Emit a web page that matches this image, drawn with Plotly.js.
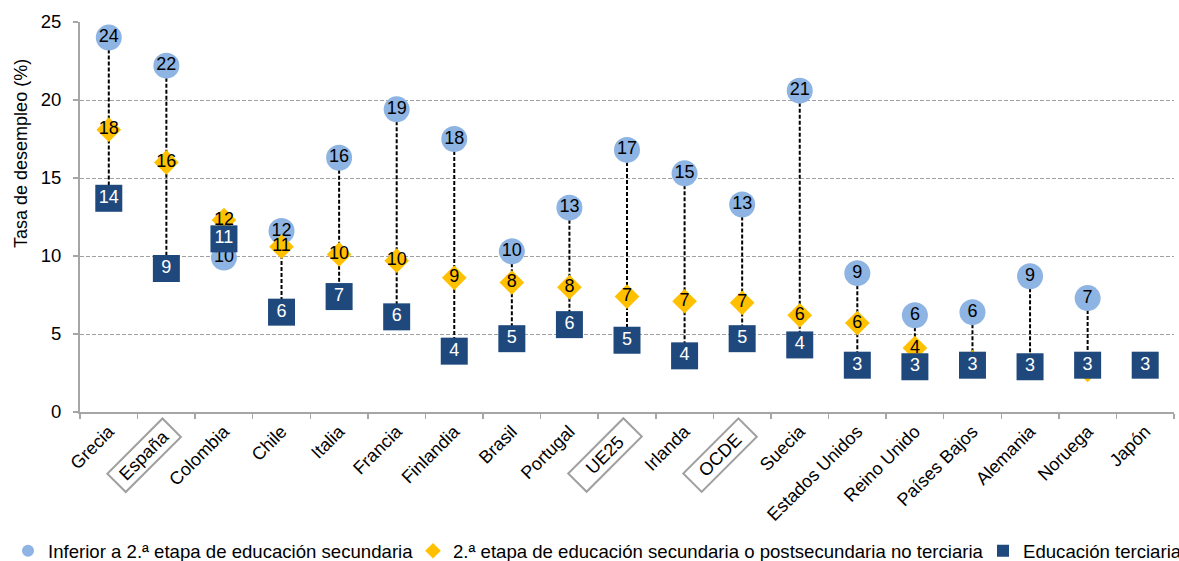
<!DOCTYPE html>
<html>
<head>
<meta charset="utf-8">
<script src="https://cdn.plot.ly/plotly-3.0.1.min.js"></script>
<style>html,body{margin:0;padding:0;background:#fff;}#chart{width:1179px;height:561px;}</style>
</head>
<body>
<div id="chart"></div>
<script>
// ---- Data ----
const categories = ["Grecia","España","Colombia","Chile","Italia","Francia","Finlandia","Brasil","Portugal","UE25","Irlanda","OCDE","Suecia","Estados Unidos","Reino Unido","Países Bajos","Alemania","Noruega","Japón"];
const inferiorSecundaria = [24.0, 22.2, 9.9, 11.6, 16.3, 19.4, 17.5, 10.3, 13.1, 16.8, 15.3, 13.3, 20.6, 8.9, 6.2, 6.4, 8.7, 7.3, null];
const segundaEtapa       = [18.1, 16.0, 12.3, 10.6, 10.1, 9.7, 8.6, 8.3, 8.0, 7.4, 7.1, 7.0, 6.2, 5.7, 4.1, 3.2, 3.0, 2.7, null];
const terciaria          = [13.7, 9.2, 11.1, 6.4, 7.4, 6.1, 3.9, 4.7, 5.6, 4.6, 3.6, 4.7, 4.3, 3.0, 2.9, 3.0, 2.9, 3.0, 3.0];
const highlighted = ["España","UE25","OCDE"];
const seriesNames = ["Inferior a 2.ª etapa de educación secundaria","2.ª etapa de educación secundaria o postsecundaria no terciaria","Educación terciaria"];
const yTitle = "Tasa de desempleo (%)";

const FONT = "'Liberation Sans', Arial, sans-serif";
const label = v => (v === null ? "" : String(Math.round(v)));
// a diamond sitting behind the square of the same country shows no label (as in the reference)
const diamondLabels = segundaEtapa.map((v, i) =>
  (v === null || (terciaria[i] !== null && Math.abs(v - terciaria[i]) < 0.5)) ? "" : label(v));

// High-low dashed connectors built from the series
const lx = [], ly = [];
categories.forEach((c, i) => {
  const vals = [inferiorSecundaria[i], segundaEtapa[i], terciaria[i]].filter(v => v !== null);
  lx.push(c, c, c);
  ly.push(Math.max(...vals), Math.min(...vals), null);
});

const traces = [
  {type:"scatter", mode:"lines", x:lx, y:ly, showlegend:false, hoverinfo:"skip",
   line:{color:"#000", width:2, dash:"4px,2px"}},
  {type:"scatter", mode:"markers+text", name:seriesNames[0], legend:"legend",
   x:categories, y:inferiorSecundaria, text:inferiorSecundaria.map(label), textposition:"middle center",
   textfont:{family:FONT, size:18, color:"#000"},
   marker:{symbol:"circle", size:26, color:"#8DB4E2", line:{width:0}}},
  {type:"scatter", mode:"markers+text", name:seriesNames[1], legend:"legend2",
   x:categories, y:segundaEtapa, text:diamondLabels, textposition:"middle center",
   textfont:{family:FONT, size:18, color:"#000"},
   marker:{symbol:"diamond", size:19, color:"#FFC000", line:{width:0}}},
  {type:"scatter", mode:"markers+text", name:seriesNames[2], legend:"legend3",
   x:categories, y:terciaria, text:terciaria.map(label), textposition:"middle center",
   textfont:{family:FONT, size:18, color:"#fff"},
   marker:{symbol:"square", size:27, color:"#1F497D", line:{width:0}}}
];

const legendBase = {orientation:"h", yanchor:"middle", xanchor:"left", y:-0.357,
  font:{family:FONT, size:18.6, color:"#000"}, bgcolor:"rgba(0,0,0,0)", itemsizing:"constant", borderwidth:0};

const annotations = highlighted.map(c => ({
  x:c, xref:"x", y:0, yref:"y", xshift:-22, yshift:-43, showarrow:false,
  text:c, textangle:-45, width:76, height:24, borderpad:0, borderwidth:2, bordercolor:"#A0A0A0",
  font:{family:FONT, size:18, color:"#000"}, align:"center", valign:"middle"
}));
annotations.push({text:yTitle, xref:"paper", yref:"paper", x:-0.054, y:0.664, xanchor:"center", yanchor:"middle",
  textangle:-90, showarrow:false, font:{family:FONT, size:18, color:"#000"}});

const layout = {
  width:1179, height:561,
  margin:{l:80, r:5, t:22, b:149, autoexpand:false},
  paper_bgcolor:"#fff", plot_bgcolor:"#fff",
  font:{family:FONT, color:"#000"},
  xaxis:{type:"category", categoryorder:"array", categoryarray:categories, range:[-0.5, categories.length-0.5],
    tickmode:"array", tickvals:categories, ticktext:categories.map(c => highlighted.includes(c) ? "" : c),
    tickangle:-45, tickson:"boundaries", ticks:"outside", ticklen:5, tickwidth:1.5, tickcolor:"#A6A6A6",
    showline:true, linecolor:"#A6A6A6", linewidth:2, showgrid:false, zeroline:false, automargin:false,
    tickfont:{family:FONT, size:18, color:"#000"}, fixedrange:true},
  yaxis:{range:[0,25], tick0:0, dtick:5, ticks:"outside", ticklen:5, tickwidth:1.5, tickcolor:"#A6A6A6",
    showline:true, linecolor:"#A6A6A6", linewidth:2, showgrid:true, gridcolor:"#A0A0A0", gridwidth:1,
    griddash:"4px,2px", zeroline:false, ticklabelstandoff:8, automargin:false,
    tickfont:{family:FONT, size:18.5, color:"#000"}, fixedrange:true},
  legend:Object.assign({}, legendBase, {x:(8-80)/1094}),
  legend2:Object.assign({}, legendBase, {x:(413-80)/1094}),
  legend3:Object.assign({}, legendBase, {x:(983-80)/1094}),
  annotations:annotations,
  showlegend:true
};

Plotly.newPlot("chart", traces, layout, {displayModeBar:false, staticPlot:true});
</script>
</body>
</html>
